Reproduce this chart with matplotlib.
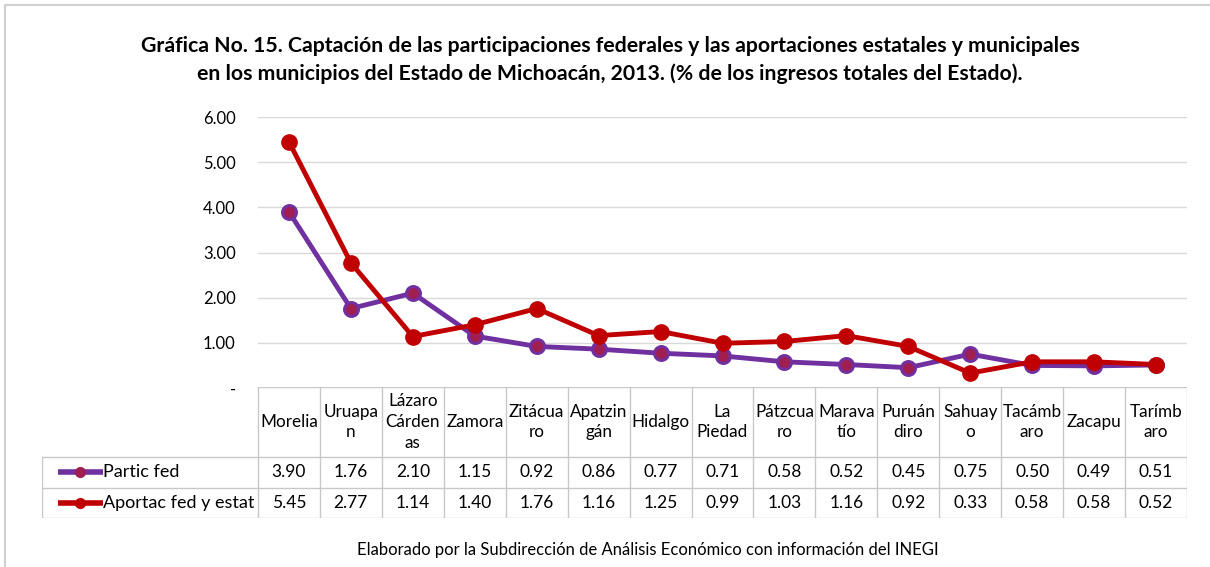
import numpy as np
import matplotlib.pyplot as plt
from matplotlib.patches import Rectangle

# Datos
municipios = ['Morelia', 'Uruapa\nn', 'Lázaro\nCárden\nas', 'Zamora', 'Zitácua\nro',
              'Apatzin\ngán', 'Hidalgo', 'La\nPiedad', 'Pátzcua\nro', 'Marava\ntío',
              'Puruán\ndiro', 'Sahuay\no', 'Tacámb\naro', 'Zacapu', 'Tarímb\naro']
partic_fed = [3.90, 1.76, 2.10, 1.15, 0.92, 0.86, 0.77, 0.71, 0.58, 0.52, 0.45, 0.75, 0.50, 0.49, 0.51]
aportac = [5.45, 2.77, 1.14, 1.40, 1.76, 1.16, 1.25, 0.99, 1.03, 1.16, 0.92, 0.33, 0.58, 0.58, 0.52]
series = ['Partic fed', 'Aportac fed y estat']
yticks = [0, 1, 2, 3, 4, 5, 6]
ytick_labels = ['-', '1.00', '2.00', '3.00', '4.00', '5.00', '6.00']

purple = '#7030A0'
red = '#C00000'
fuente = 'Lato'

W, H = 1210, 567
fig = plt.figure(figsize=(W / 100, H / 100), dpi=100)
fig.patch.set_facecolor('white')

# Marco exterior
fig.patches.append(Rectangle((5 / W, -0.01), 1.0, 1 - 5 / H + 0.01, transform=fig.transFigure,
                             fill=False, edgecolor='#d0d0d0', lw=1.5))

# Area del grafico
x0, x1 = 258, 1187
ytop, ybot = 117, 388
ax = fig.add_axes([x0 / W, 1 - ybot / H, (x1 - x0) / W, (ybot - ytop) / H])
x = np.arange(len(municipios))
ax.plot(x, partic_fed, color=purple, lw=3.5, marker='o', ms=10,
        mfc='#A01E50', mec=purple, mew=2.2, zorder=3)
ax.plot(x, aportac, color=red, lw=3.5, marker='o', ms=11,
        mfc=red, mec=red, zorder=4)
ax.set_xlim(-0.5, len(municipios) - 0.5)
ax.set_ylim(0, 6)
ax.set_yticks(yticks)
ax.set_yticklabels(ytick_labels, fontsize=12, family=fuente)
ax.set_xticks([])
ax.tick_params(axis='y', length=0, pad=16)
for s in ax.spines.values():
    s.set_visible(False)
for v in yticks[1:]:
    ax.axhline(v, color='#d9d9d9', lw=1, zorder=1)

# Tabla de datos
col_w = (x1 - x0) / len(municipios)
lab_w = (x0 - 42) / col_w
t_top, t_bot = 387, 518
tax = fig.add_axes([42 / W, 1 - t_bot / H, (x1 - 42) / W, (t_bot - t_top) / H])
tax.set_xlim(-0.5 - lab_w, len(municipios) - 0.5)
tax.set_ylim(t_bot - t_top, 0)
tax.axis('off')
hdr = 70
rowh = 30.5
gc = '#c8c8c8'
# lineas de la tabla
for i in range(len(municipios) + 1):
    tax.plot([i - 0.5, i - 0.5], [0, hdr + 2 * rowh], color=gc, lw=1)
tax.plot([-0.5 - lab_w, -0.5 - lab_w], [hdr, hdr + 2 * rowh], color=gc, lw=1)
tax.plot([-0.5, len(municipios) - 0.5], [0, 0], color=gc, lw=1)
for k in range(3):
    tax.plot([-0.5 - lab_w, len(municipios) - 0.5], [hdr + k * rowh] * 2, color=gc, lw=1)

for i, name in enumerate(municipios):
    tax.text(i, hdr / 2, name, ha='center', va='center', fontsize=12.3,
             family=fuente, linespacing=1.35)
lx = -0.5 - lab_w
for r, (vals, c, mfc) in enumerate([(partic_fed, purple, '#A01E50'), (aportac, red, red)]):
    yc = hdr + rowh * (r + 0.5)
    for i, v in enumerate(vals):
        tax.text(i, yc, f'{v:.2f}', ha='center', va='center', fontsize=12.5, family=fuente)
    tax.plot([lx + 0.26, lx + 0.985], [yc, yc], color=c, lw=4, solid_capstyle='butt')
    tax.plot([lx + 0.62], [yc], marker='o', ms=7, color=mfc, mec=mfc)
    tax.text(lx + 0.99, yc, series[r], ha='left', va='center', fontsize=13, family=fuente)

# Titulo y fuente
fig.text(610 / W, 1 - 46 / H, 'Gráfica No. 15. Captación de las participaciones federales y las aportaciones estatales y municipales',
         ha='center', va='center', fontsize=15.3, fontweight='bold', family=fuente)
fig.text(610 / W, 1 - 74 / H, 'en los municipios del Estado de Michoacán, 2013. (% de los ingresos totales del Estado).',
         ha='center', va='center', fontsize=15.3, fontweight='bold', family=fuente)
fig.text(648 / W, 1 - 550 / H, 'Elaborado por la Subdirección de Análisis Económico con información del INEGI',
         ha='center', va='center', fontsize=12, family=fuente)

fig.savefig('out.png', dpi=100)
